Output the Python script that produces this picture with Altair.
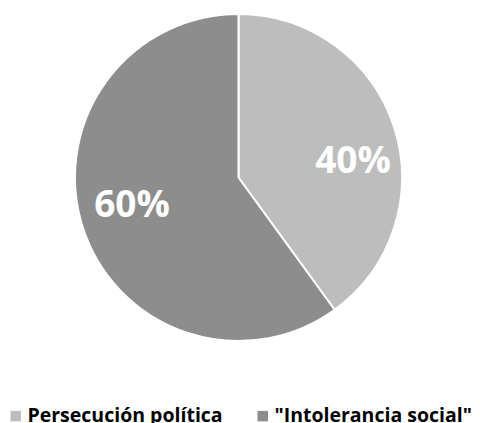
import altair as alt
import pandas as pd

categories = ["Persecución política", '"Intolerancia social"']
values = [40, 60]
labels = ["40%", "60%"]
colors = ["#bdbdbd", "#8d8d8d"]

df = pd.DataFrame({
    "cat": categories,
    "val": values,
    "label": labels,
    "idx": list(range(len(categories))),
})

CX, CY = 230.5, 169.5

theta_scale = alt.Scale(domain=[0, 100], range=[0, 6.283185307179586])

base = alt.Chart(df).transform_stack(
    stack="val", groupby=[], as_=["v0", "v1"], sort=[alt.SortField("idx", order="ascending")]
).transform_calculate(
    mid="(datum.v0 + datum.v1) / 2"
).encode(
    x=alt.value(CX),
    y=alt.value(CY),
)

arc = base.mark_arc(radius=163.5, stroke="white", strokeWidth=2).encode(
    theta=alt.Theta("v0:Q", scale=theta_scale, stack=None),
    theta2="v1:Q",
    color=alt.Color(
        "cat:N",
        scale=alt.Scale(domain=categories, range=colors),
        sort=categories,
        legend=alt.Legend(
            title=None,
            orient="none",
            direction="horizontal",
            legendX=-2,
            legendY=398,
            symbolType="square",
            symbolSize=110,
            symbolStrokeWidth=0,
            labelFont="Open Sans",
            labelFontWeight="bold",
            labelFontSize=19.5,
            labelColor="#000000",
            labelOffset=2,
            labelLimit=0,
            columnPadding=30,
            padding=0,
        ),
    ),
)

txt_style = dict(radius=112, font="Open Sans", fontWeight="bold", fontSize=37,
                 color="white", align="center", baseline="middle")

t40 = base.transform_filter(alt.datum.idx == 0).mark_text(dx=8, dy=19, **txt_style).encode(
    theta=alt.Theta("mid:Q", scale=theta_scale, stack=None),
    text="label:N",
)
t60 = base.transform_filter(alt.datum.idx == 1).mark_text(dx=0, dy=-6, **txt_style).encode(
    theta=alt.Theta("mid:Q", scale=theta_scale, stack=None),
    text="label:N",
)

chart = alt.layer(arc, t40, t60).resolve_scale(theta="shared").properties(
    width=464,
    height=415,
    padding=0,
    autosize=alt.AutoSizeParams(type="none"),
).configure_view(stroke=None)

chart.save("out.html", embed_options={"renderer": "svg", "actions": False})
